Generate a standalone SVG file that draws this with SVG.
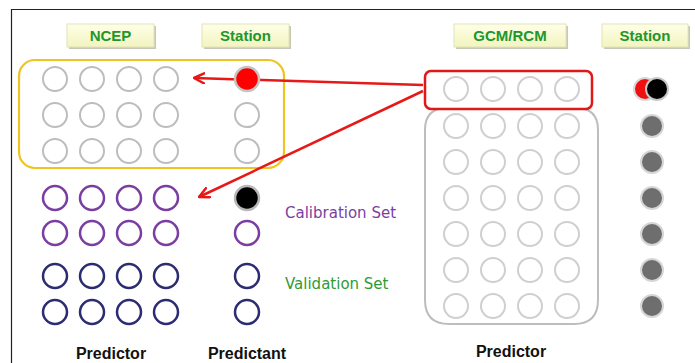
<svg xmlns="http://www.w3.org/2000/svg" width="695" height="363" viewBox="0 0 695 363">
  <defs>
    <linearGradient id="tagFill" x1="0" y1="0" x2="0" y2="1">
      <stop offset="0" stop-color="#ffffe8"/>
      <stop offset="1" stop-color="#f2f4c0"/>
    </linearGradient>
    <marker id="openHead" markerWidth="12" markerHeight="12" refX="11" refY="6" orient="auto" markerUnits="userSpaceOnUse">
      <path d="M1,1 L11,6 L1,11" fill="none" stroke="#e81818" stroke-width="2.5" stroke-linecap="round" stroke-linejoin="round"/>
    </marker>
  </defs>
  <style>
    .tag rect.shadow { fill: #9a9a80; opacity: 0.55; }
    .tag rect.face { fill: url(#tagFill); stroke: #e2e4b8; stroke-width: 1; }
    .tag text { font-family: "Liberation Sans", Arial, sans-serif; font-weight: bold; font-size: 15px; fill: #22962a; text-anchor: middle; }
    .g { fill: none; stroke: #bdbdbd; stroke-width: 2; }
    .gl { fill: none; stroke: #cfcfcf; stroke-width: 2; }
    .p { fill: none; stroke: #7a3ea2; stroke-width: 2.5; }
    .n { fill: none; stroke: #2c2c72; stroke-width: 2.5; }
    .dot { fill: #6e6e6e; stroke: #d6d6d6; stroke-width: 2; }
    .cap { font-family: "Liberation Sans", Arial, sans-serif; font-weight: bold; font-size: 16px; fill: #111; text-anchor: middle; }
    .set { font-family: "DejaVu Sans", sans-serif; font-size: 15px; }
    .link { fill: none; stroke: #e81818; stroke-width: 2.5; marker-end: url(#openHead); }
  </style>

  <rect width="695" height="363" fill="#ffffff"/>
  <!-- frame -->
  <path d="M11.5,363 L11.5,9.5 L695,9.5" fill="none" stroke="#222" stroke-width="1.2"/>

  <!-- column headers -->
  <g id="tag-ncep" class="tag">
    <rect class="shadow" x="69" y="26" width="87" height="23"/>
    <rect class="face" x="67" y="24" width="87" height="23"/>
    <text x="110.5" y="41">NCEP</text>
  </g>
  <g id="tag-station-left" class="tag">
    <rect class="shadow" x="204" y="26" width="87" height="23"/>
    <rect class="face" x="202" y="24" width="87" height="23"/>
    <text x="245.5" y="41">Station</text>
  </g>
  <g id="tag-gcm" class="tag">
    <rect class="shadow" x="456" y="26" width="112" height="23"/>
    <rect class="face" x="454" y="24" width="112" height="23"/>
    <text x="510" y="41">GCM/RCM</text>
  </g>
  <g id="tag-station-right" class="tag">
    <rect class="shadow" x="604" y="26" width="86" height="23"/>
    <rect class="face" x="602" y="24" width="86" height="23"/>
    <text x="645" y="41">Station</text>
  </g>

  <!-- NCEP block with matching station values -->
  <g id="ncep-block">
    <rect x="19" y="60" width="265" height="108" rx="16" fill="none" stroke="#f0c420" stroke-width="2.2"/>
    <circle class="g" cx="55" cy="79" r="12"/><circle class="g" cx="92" cy="79" r="12"/><circle class="g" cx="129" cy="79" r="12"/><circle class="g" cx="166" cy="79" r="12"/>
    <circle class="g" cx="55" cy="115" r="12"/><circle class="g" cx="92" cy="115" r="12"/><circle class="g" cx="129" cy="115" r="12"/><circle class="g" cx="166" cy="115" r="12"/>
    <circle class="g" cx="55" cy="151" r="12"/><circle class="g" cx="92" cy="151" r="12"/><circle class="g" cx="129" cy="151" r="12"/><circle class="g" cx="166" cy="151" r="12"/>
    <circle class="g" cx="247" cy="115" r="12"/>
    <circle class="g" cx="247" cy="151" r="12"/>
  </g>

  <!-- calibration set -->
  <g id="calibration-set">
    <circle class="p" cx="55" cy="198" r="12"/><circle class="p" cx="92" cy="198" r="12"/><circle class="p" cx="129" cy="198" r="12"/><circle class="p" cx="166" cy="198" r="12"/>
    <circle class="p" cx="55" cy="233" r="12"/><circle class="p" cx="92" cy="233" r="12"/><circle class="p" cx="129" cy="233" r="12"/><circle class="p" cx="166" cy="233" r="12"/>
    <circle cx="247" cy="198" r="12" fill="#000" stroke="#b8b8b8" stroke-width="2.5"/>
    <circle class="p" cx="247" cy="233" r="12"/>
    <text class="set" x="285" y="218" fill="#7a3ea2">Calibration  Set</text>
  </g>

  <!-- validation set -->
  <g id="validation-set">
    <circle class="n" cx="55" cy="276" r="12"/><circle class="n" cx="92" cy="276" r="12"/><circle class="n" cx="129" cy="276" r="12"/><circle class="n" cx="166" cy="276" r="12"/>
    <circle class="n" cx="55" cy="312" r="12"/><circle class="n" cx="92" cy="312" r="12"/><circle class="n" cx="129" cy="312" r="12"/><circle class="n" cx="166" cy="312" r="12"/>
    <circle class="n" cx="247" cy="276" r="12"/>
    <circle class="n" cx="247" cy="312" r="12"/>
    <text class="set" x="285" y="289" fill="#2e9a36">Validation  Set</text>
  </g>

  <!-- GCM/RCM block -->
  <g id="gcm-block">
    <path d="M425,130 Q425,108 447,108 L576,108 Q598,108 598,130 L598,300 Q598,324 574,324 L449,324 Q425,324 425,300 Z" fill="none" stroke="#bdbdbd" stroke-width="2"/>
    <circle class="gl" cx="456" cy="126" r="12"/><circle class="gl" cx="493" cy="126" r="12"/><circle class="gl" cx="530" cy="126" r="12"/><circle class="gl" cx="567" cy="126" r="12"/>
    <circle class="gl" cx="456" cy="162" r="12"/><circle class="gl" cx="493" cy="162" r="12"/><circle class="gl" cx="530" cy="162" r="12"/><circle class="gl" cx="567" cy="162" r="12"/>
    <circle class="gl" cx="456" cy="198" r="12"/><circle class="gl" cx="493" cy="198" r="12"/><circle class="gl" cx="530" cy="198" r="12"/><circle class="gl" cx="567" cy="198" r="12"/>
    <circle class="gl" cx="456" cy="234" r="12"/><circle class="gl" cx="493" cy="234" r="12"/><circle class="gl" cx="530" cy="234" r="12"/><circle class="gl" cx="567" cy="234" r="12"/>
    <circle class="gl" cx="456" cy="270" r="12"/><circle class="gl" cx="493" cy="270" r="12"/><circle class="gl" cx="530" cy="270" r="12"/><circle class="gl" cx="567" cy="270" r="12"/>
    <circle class="gl" cx="456" cy="306" r="12"/><circle class="gl" cx="493" cy="306" r="12"/><circle class="gl" cx="530" cy="306" r="12"/><circle class="gl" cx="567" cy="306" r="12"/>
  </g>

  <!-- selected GCM/RCM row -->
  <g id="gcm-row">
    <rect x="425" y="71" width="167" height="38" rx="6" fill="#fff" stroke="#e01818" stroke-width="2.5"/>
    <circle class="gl" cx="456" cy="89" r="12"/><circle class="gl" cx="493" cy="89" r="12"/><circle class="gl" cx="530" cy="89" r="12"/><circle class="gl" cx="567" cy="89" r="12"/>
  </g>

  <!-- future station values -->
  <g id="station-future">
    <circle cx="645" cy="89" r="11" fill="#f01010" stroke="#d8d8d8" stroke-width="2"/>
    <circle cx="657" cy="89" r="11" fill="#000" stroke="#c8c8c8" stroke-width="2"/>
    <circle class="dot" cx="652" cy="126" r="11"/>
    <circle class="dot" cx="652" cy="162" r="11"/>
    <circle class="dot" cx="652" cy="198" r="11"/>
    <circle class="dot" cx="652" cy="234" r="11"/>
    <circle class="dot" cx="652" cy="270" r="11"/>
    <circle class="dot" cx="652" cy="306" r="11"/>
  </g>

  <!-- connectors -->
  <g id="connectors">
    <line class="link" x1="423" y1="85" x2="194" y2="78"/>
    <line class="link" x1="423" y1="91" x2="199" y2="197"/>
  </g>

  <!-- selected station value (drawn over the connector) -->
  <g id="station-selected">
    <circle cx="247" cy="79" r="12" fill="#f00" stroke="#c4c4c4" stroke-width="2.5"/>
  </g>

  <!-- axis captions -->
  <g id="captions">
    <text class="cap" x="111" y="359">Predictor</text>
    <text class="cap" x="247" y="359">Predictant</text>
    <text class="cap" x="511" y="357">Predictor</text>
  </g>
</svg>
